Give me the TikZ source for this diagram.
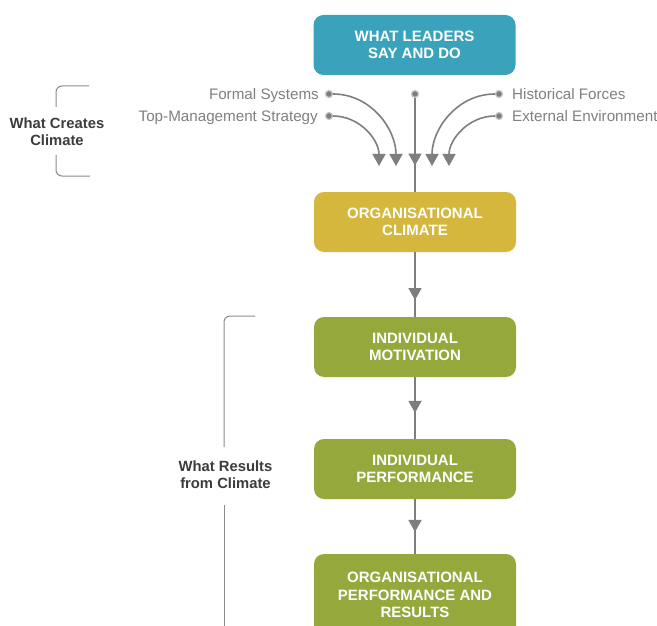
\documentclass[tikz,border=0pt]{standalone}
\usepackage{fontspec}
\setmainfont{Liberation Sans}
\usetikzlibrary{arrows.meta,decorations.markings}

\definecolor{leadteal}{HTML}{3AA2BA}
\definecolor{climategold}{HTML}{D5B73D}
\definecolor{resultgreen}{HTML}{94A83C}
\definecolor{linegray}{HTML}{7D7E81}
\definecolor{factorgray}{HTML}{808080}
\definecolor{groupgray}{HTML}{3C3C3C}
\definecolor{bracketgray}{HTML}{8A8A8A}

\tikzset{
  stage/.style={rectangle, rounded corners=10pt, minimum width=202pt,
    minimum height=60pt, inner sep=0pt, text=white, align=center,
    font=\bfseries\fontsize{15}{17.5}\selectfont},
  flow/.style={draw=linegray, line width=1.6pt},
  tip/.style={-{Triangle[width=13pt,length=12pt]}},
  midarrow/.style={postaction=decorate, decoration={markings,
    mark=at position #1 with {\arrow{Triangle[width=13pt,length=12pt]}}}},
  dot/.style={circle, fill=linegray, draw=linegray!45, line width=1.2pt,
    minimum size=7pt, inner sep=0pt},
  factor/.style={text=factorgray, inner sep=0pt,
    font=\fontsize{15.2}{17}\selectfont},
  group/.style={text=groupgray, align=center, inner sep=0pt,
    font=\bfseries\fontsize{14.8}{17}\selectfont},
  bracket/.style={draw=bracketgray, line width=1pt, rounded corners=6pt}
}

\begin{document}
\begin{tikzpicture}[x=1pt,y=1pt]
  \useasboundingbox (0,0) rectangle (657,-626);
  \clip (0,0) rectangle (657,-626);

  % stages of the chain
  \node[stage, fill=leadteal] (leaders) at (414.5,-45) {WHAT LEADERS\\SAY AND DO};
  \node[stage, fill=climategold] (climate) at (415,-222) {ORGANISATIONAL\\CLIMATE};
  \node[stage, fill=resultgreen] (motiv) at (415,-347) {INDIVIDUAL\\MOTIVATION};
  \node[stage, fill=resultgreen] (perf) at (415,-469) {INDIVIDUAL\\PERFORMANCE};
  \node[stage, fill=resultgreen, minimum height=82pt] (orgperf) at (415,-595)
    {ORGANISATIONAL\\PERFORMANCE AND\\RESULTS};

  % influences on climate
  \node[dot] (fsdot) at (329,-94) {};
  \node[dot] (tmdot) at (329,-116) {};
  \node[dot] (cdot) at (415,-94) {};
  \node[dot] (hfdot) at (499,-94) {};
  \node[dot] (eedot) at (499,-116) {};

  \node[factor, anchor=base east] (fs) at (319,-99.4) {Formal Systems};
  \node[factor, anchor=base east] (tm) at (318,-121.4) {Top-Management Strategy};
  \node[factor, anchor=base west] (hf) at (512,-99.4) {Historical Forces};
  \node[factor, anchor=base west] (ee) at (512,-121.4) {External Environment};

  \coordinate (tmend) at (379,-166);
  \coordinate (fsend) at (396,-166);
  \coordinate (hfend) at (432,-166);
  \coordinate (eeend) at (449,-166);

  \draw[flow, tip] (tmdot) to[out=0, in=90] (tmend);
  \draw[flow, tip] (fsdot) to[out=0, in=90] (fsend);
  \draw[flow, tip] (hfdot) to[out=180, in=90] (hfend);
  \draw[flow, tip] (eedot) to[out=180, in=90] (eeend);
  \draw[flow, midarrow=0.72] (cdot) -- (climate);

  % chain of results
  \draw[flow, midarrow=0.74] (climate) -- (motiv);
  \draw[flow, midarrow=0.58] (motiv) -- (perf);
  \draw[flow, midarrow=0.60] (perf) -- (orgperf);

  % group labels with brackets
  \node[group] (creates) at (57,-131.5) {What Creates\\Climate};
  \coordinate (cbt) at (89,-86);
  \coordinate (cbb) at (90,-176);
  \draw[bracket] (cbt) -| (56,-107);
  \draw[bracket] (56,-155) |- (cbb);

  \node[group] (results) at (225.5,-474.5) {What Results\\from Climate};
  \coordinate (rbt) at (255,-316);
  \draw[bracket] (rbt) -| (224,-447);
  \draw[bracket] (224,-505) -- (224,-640);
\end{tikzpicture}
\end{document}
